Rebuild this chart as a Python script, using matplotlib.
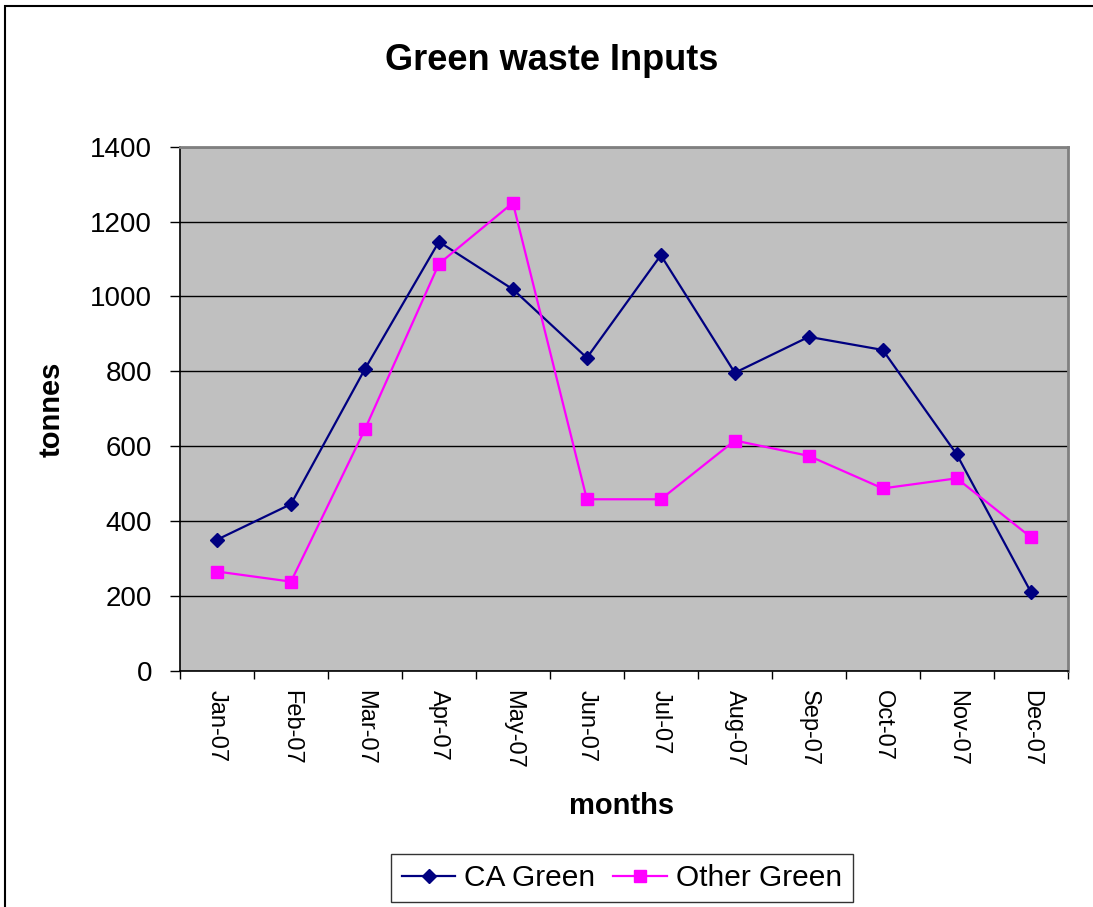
import numpy as np
import matplotlib
matplotlib.use("Agg")
import matplotlib.pyplot as plt
from matplotlib.patches import Rectangle

months = ["Jan-07", "Feb-07", "Mar-07", "Apr-07", "May-07", "Jun-07",
          "Jul-07", "Aug-07", "Sep-07", "Oct-07", "Nov-07", "Dec-07"]
ca_green = [350, 445, 806, 1146, 1019, 836, 1110, 796, 892, 857, 578, 211]
other_green = [265, 238, 645, 1087, 1250, 458, 458, 615, 574, 487, 514, 357]
y_ticks = [0, 200, 400, 600, 800, 1000, 1200, 1400]

plt.rcParams['font.family'] = ['Liberation Sans', 'DejaVu Sans']

fig = plt.figure(figsize=(10.93, 9.07), dpi=100)
W, H = 1093, 907

# outer chart border (cut off at right/bottom like the reference)
fig.patches.append(Rectangle((5 / W, -0.05), 1.2, 1 - 6 / H + 0.05,
                             transform=fig.transFigure, fill=False,
                             edgecolor='black', linewidth=1.5))

ax = fig.add_axes([180 / W, 1 - 670.7 / H, 887.7 / W, 524 / H])
ax.set_facecolor('#C0C0C0')

x = np.arange(len(months))
ax.plot(x, ca_green, color='#000080', marker='D', markersize=7,
        linewidth=1.6, label='CA Green', zorder=3)
ax.plot(x, other_green, color='#FF00FF', marker='s', markersize=8.3,
        linewidth=1.6, label='Other Green', zorder=3)

ax.set_xlim(-0.5, len(months) - 0.5)
ax.set_ylim(0, 1400)
ax.set_yticks(y_ticks)
ax.yaxis.grid(True, color='black', linewidth=1.0)
ax.set_axisbelow(True)

# tick marks between categories, labels at the centres
ax.set_xticks(np.arange(-0.5, len(months)), labels=[])
ax.set_xticks(x, labels=months, minor=True)
ax.tick_params(axis='x', which='major', direction='out', length=5.5,
               width=1, color='black')
ax.tick_params(axis='x', which='minor', length=0, pad=14, labelsize=17,
               labelrotation=-90)
ax.tick_params(axis='y', direction='out', length=7, width=1, pad=13,
               labelsize=20)
for lab in ax.get_xticklabels(minor=True):
    lab.set_va('top')
    lab.set_ha('center')

for side in ['top', 'right']:
    ax.spines[side].set_color('#808080')
    ax.spines[side].set_linewidth(2)
for side in ['left', 'bottom']:
    ax.spines[side].set_color('black')
    ax.spines[side].set_linewidth(1.2)

fig.text(552 / W, 1 - 60 / H, "Green waste Inputs", ha='center', va='center',
         fontsize=26, fontweight='bold')
fig.text(622 / W, 1 - 806 / H, "months", ha='center', va='center',
         fontsize=21, fontweight='bold')
fig.text(52 / W, 1 - 409 / H, "tonnes", ha='center', va='center',
         fontsize=21, fontweight='bold', rotation=90)

leg = fig.legend(loc='center', bbox_to_anchor=(622 / W, 1 - 878 / H),
                 ncol=2, fontsize=21.5, frameon=True, fancybox=False,
                 handlelength=1.8, handletextpad=0.3, columnspacing=0.6,
                 borderpad=0.35, borderaxespad=0)
leg.get_frame().set_edgecolor('black')
leg.get_frame().set_linewidth(1.0)

fig.savefig("out.png", dpi=100)
